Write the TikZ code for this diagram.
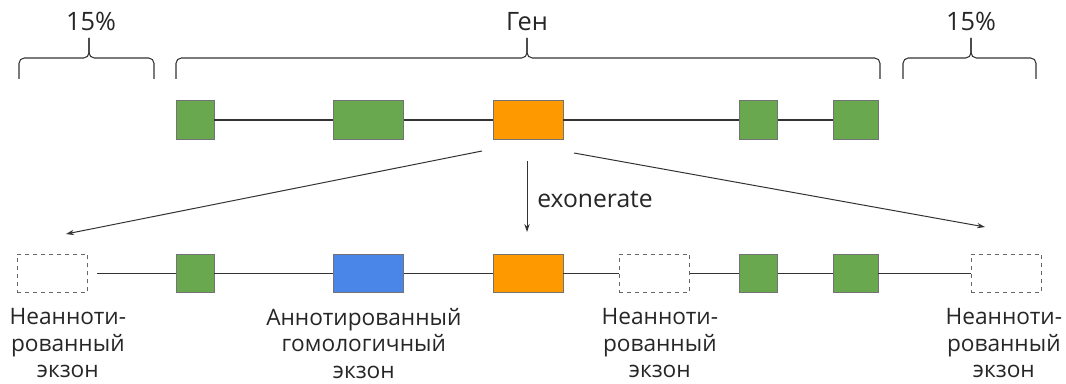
\documentclass[tikz,border=0pt]{standalone}
\usepackage{fontspec}
\setsansfont{Open Sans}
\usetikzlibrary{arrows.meta}
\definecolor{exgreen}{HTML}{6AA84F}
\definecolor{exorange}{HTML}{FF9900}
\definecolor{exblue}{HTML}{4A86E8}
\definecolor{ink}{HTML}{333333}
\tikzset{
    exon/.style = {draw=black!55, line width=0.6pt, minimum height=29pt, minimum width=28.5pt, inner sep=0pt},
    known/.style = {exon, fill=exgreen},
    target/.style = {exon, fill=exorange, minimum width=52.5pt},
    homolog/.style = {exon, fill=exblue, minimum width=53pt},
    novel/.style = {exon, draw=black!60, dashed, minimum width=53pt},
    intron/.style = {draw=ink, line width=0.9pt},
    bracket/.style = {draw=ink, line width=0.8pt, rounded corners=4pt},
    map/.style = {draw=ink, line width=0.75pt, -{Stealth[length=6pt, width=4pt]}},
    tag/.style = {font=\sffamily\fontsize{19}{22}\selectfont, text=black!85, inner sep=0pt},
    every label/.style = {font=\sffamily\fontsize{17}{20}\selectfont, text=black!85, align=center, inner sep=2pt}
}
\begin{document}
\begin{tikzpicture}[x=0.75pt, y=-0.75pt, label distance=9pt]
        \useasboundingbox (0, 0) rectangle (1066, 384);
        % place gene exons
        \node[known] (gene-1) at (195, 120) {};
        \node[known, minimum width=53pt] (gene-2) at (368.5, 120) {};
        \node[target] (gene-3) at (528, 120) {};
        \node[known, minimum width=29pt] (gene-4) at (758.5, 120) {};
        \node[known, minimum width=33.75pt] (gene-5) at (855.5, 120) {};

        % place exons found by exonerate
        \node[novel, label={[xshift=11.5pt]below:Неанноти-\\рованный\\экзон}] (hit-1) at (52.5, 273.5) {};
        \node[known] (hit-2) at (195, 273.5) {};
        \node[homolog, label={[xshift=-3.5pt]below:Аннотированный\\гомологичный\\экзон}] (hit-3) at (368.5, 273.5) {};
        \node[target] (hit-4) at (528, 273.5) {};
        \node[novel, label={[xshift=4pt]below:Неанноти-\\рованный\\экзон}] (hit-5) at (654.5, 273.5) {};
        \node[known, minimum width=29pt] (hit-6) at (758.5, 273.5) {};
        \node[known, minimum width=33.75pt] (hit-7) at (855.5, 273.5) {};
        \node[novel, label={[xshift=-2pt]below:Неанноти-\\рованный\\экзон}] (hit-8) at (1006.5, 273.5) {};

        % draw introns
        \draw[intron] (gene-1) -- (gene-2) -- (gene-3) -- (gene-4) -- (gene-5);
        \draw[intron, shorten <=6.5pt] (hit-1) -- (hit-2);
        \draw[intron] (hit-2) -- (hit-3) -- (hit-4) -- (hit-5) -- (hit-6) -- (hit-7) -- (hit-8);

        % draw braces and their titles
        \draw[bracket] (19, 79) -- (19, 58) -- (89, 58) -- (89, 38);
        \draw[bracket] (154, 79) -- (154, 58) -- (89, 58) -- (89, 38);
        \draw[bracket] (176, 79) -- (176, 58) -- (527, 58) -- (527, 38);
        \draw[bracket] (880, 79) -- (880, 58) -- (527, 58) -- (527, 38);
        \draw[bracket] (903, 79) -- (903, 58) -- (971, 58) -- (971, 38);
        \draw[bracket] (1036, 79) -- (1036, 58) -- (971, 58) -- (971, 38);
        \node[tag, anchor=base] (flank-l) at (91, 31) {15\%};
        \node[tag, anchor=base] (gene) at (527, 31) {Ген};
        \node[tag, anchor=base] (flank-r) at (971, 31) {15\%};

        % draw mapping arrows
        \coordinate (from-l) at (482, 151);
        \coordinate (from-m) at (527, 161);
        \coordinate (from-r) at (574, 153);
        \coordinate (to-l) at (66, 234);
        \coordinate (to-m) at (527, 232);
        \coordinate (to-r) at (985, 227);
        \draw[map] (from-l) -- (to-l);
        \draw[map] (from-m) -- (to-m);
        \draw[map] (from-r) -- (to-r);
        \node[tag, anchor=base west, font=\sffamily\fontsize{18.5}{22}\selectfont] (tool) at (537, 208) {exonerate};
    \end{tikzpicture}
\end{document}
